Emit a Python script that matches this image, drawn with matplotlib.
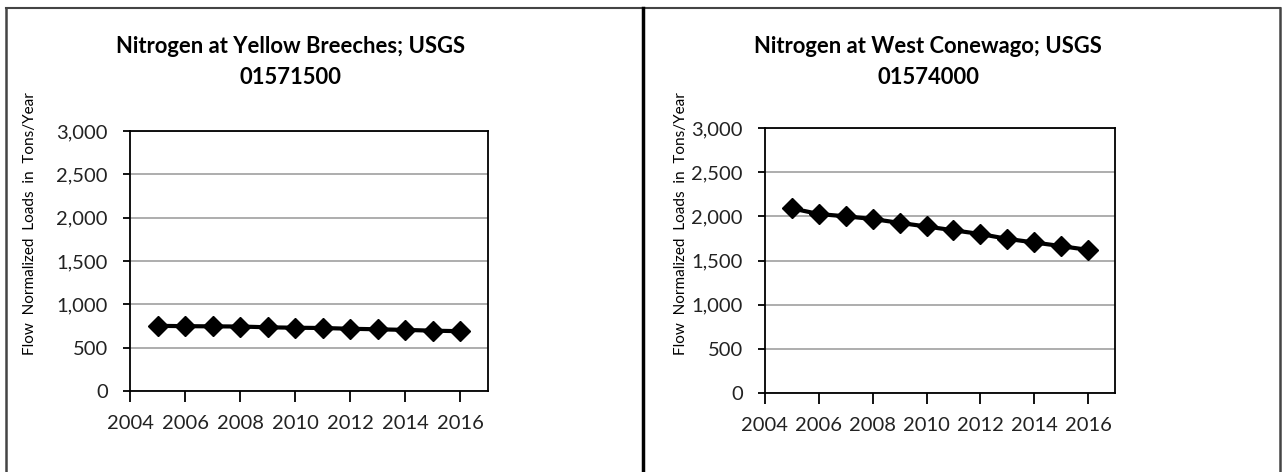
import matplotlib.pyplot as plt
from matplotlib.lines import Line2D
from matplotlib.ticker import FuncFormatter, MultipleLocator

plt.rcParams['font.family'] = ['Lato', 'DejaVu Sans']

years = [2005, 2006, 2007, 2008, 2009, 2010, 2011, 2012, 2013, 2014, 2015, 2016]
yellow_breeches = [752, 748, 746, 744, 735, 730, 727, 718, 712, 705, 696, 690]
west_conewago = [2090, 2026, 2000, 1970, 1926, 1885, 1842, 1800, 1745, 1704, 1663, 1620]

titles = ['Nitrogen at Yellow Breeches; USGS\n01571500',
          'Nitrogen at West Conewago; USGS\n01574000']
ylabel = 'Flow  Normalized  Loads  in  Tons/Year'

W, H = 1282, 472
fig = plt.figure(figsize=(W / 100, H / 100), dpi=100)


def px_axes(x0, y0, x1, y1):
    # pixel box (top-left origin) -> figure fraction
    return fig.add_axes([x0 / W, 1 - y1 / H, (x1 - x0) / W, (y1 - y0) / H])


boxes = [(130, 131, 488, 391), (765, 128, 1115, 393)]
title_x = [291, 928]
ylabel_x = [30, 681]
series = [yellow_breeches, west_conewago]

for box, tx, lx, vals, title in zip(boxes, title_x, ylabel_x, series, titles):
    ax = px_axes(*box)
    ax.plot(years, vals, color='black', lw=3, marker='D', ms=10.5,
            markerfacecolor='black', markeredgecolor='black', zorder=3)
    ax.set_xlim(2004, 2017)
    ax.set_ylim(0, 3000)
    ax.set_xticks(range(2004, 2017, 2))
    ax.yaxis.set_major_locator(MultipleLocator(500))
    ax.yaxis.set_major_formatter(FuncFormatter(lambda v, p: f'{int(v):,}'))
    ax.grid(axis='y', color='#a0a0a0', lw=1.2)
    ax.set_axisbelow(True)
    for s in ax.spines.values():
        s.set_color('black')
        s.set_linewidth(1.3)
    ax.tick_params(axis='both', labelsize=14.5, colors='black', width=1.3)
    ax.tick_params(axis='y', length=5, pad=11)
    ax.tick_params(axis='x', length=8, pad=9)
    for lab in ax.get_xticklabels() + ax.get_yticklabels():
        lab.set_color('#222222')
    fig.text(tx / W, 1 - 62 / H, title, ha='center', va='center',
             fontsize=15.8, fontweight='bold', linespacing=1.55)
    fig.text(lx / W, 1 - 224 / H, ylabel, rotation=90, ha='center',
             va='center', fontsize=11)

# outer frames
fig.add_artist(Line2D([6 / W, 1280 / W], [1 - 7.5 / H, 1 - 7.5 / H],
                      color='#444444', lw=1.5, transform=fig.transFigure))
fig.add_artist(Line2D([6 / W, 6 / W], [0, 1 - 7.5 / H],
                      color='#444444', lw=1.8, transform=fig.transFigure))
fig.add_artist(Line2D([643 / W, 643 / W], [0, 1 - 7.5 / H],
                      color='black', lw=2.5, transform=fig.transFigure))
fig.add_artist(Line2D([1280 / W, 1280 / W], [0, 1 - 7.5 / H],
                      color='#444444', lw=1.8, transform=fig.transFigure))

fig.savefig('out.png', dpi=100)
